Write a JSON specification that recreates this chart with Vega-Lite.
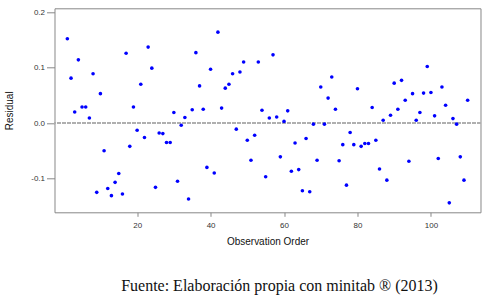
{
  "$schema": "https://vega.github.io/schema/vega-lite/v6.json",
  "width": 426,
  "height": 204,
  "autosize": {"type": "none"},
  "padding": {"left": 54.5, "top": 8.3, "right": 8, "bottom": 90},
  "background": "white",
  "title": {
    "text": "Fuente: Elaboración propia con minitab ® (2013)",
    "orient": "bottom",
    "font": "Liberation Serif",
    "fontSize": 16,
    "fontWeight": "normal",
    "color": "#111111",
    "offset": 32,
    "dx": 12
  },
  "config": {
    "view": {"stroke": "#888888", "strokeWidth": 1},
    "axis": {
      "grid": false,
      "domain": false,
      "tickColor": "#888888",
      "labelFont": "Liberation Sans",
      "titleFont": "Liberation Sans",
      "labelFontSize": 8,
      "labelColor": "#333333",
      "titleFontSize": 10,
      "titleFontWeight": "normal",
      "titleColor": "#111111"
    }
  },
  "data": {
    "values": [
      {"obs": 1, "resid": 0.152}, {"obs": 2, "resid": 0.081}, {"obs": 3, "resid": 0.020},
      {"obs": 4, "resid": 0.114}, {"obs": 5, "resid": 0.029}, {"obs": 6, "resid": 0.029},
      {"obs": 7, "resid": 0.009}, {"obs": 8, "resid": 0.089}, {"obs": 9, "resid": -0.125},
      {"obs": 10, "resid": 0.053}, {"obs": 11, "resid": -0.050}, {"obs": 12, "resid": -0.118},
      {"obs": 13, "resid": -0.131}, {"obs": 14, "resid": -0.107}, {"obs": 15, "resid": -0.091},
      {"obs": 16, "resid": -0.128}, {"obs": 17, "resid": 0.126}, {"obs": 18, "resid": -0.042},
      {"obs": 19, "resid": 0.029}, {"obs": 20, "resid": -0.013}, {"obs": 21, "resid": 0.070},
      {"obs": 22, "resid": -0.026}, {"obs": 23, "resid": 0.137}, {"obs": 24, "resid": 0.099},
      {"obs": 25, "resid": -0.116}, {"obs": 26, "resid": -0.018}, {"obs": 27, "resid": -0.019},
      {"obs": 28, "resid": -0.035}, {"obs": 29, "resid": -0.035}, {"obs": 30, "resid": 0.019},
      {"obs": 31, "resid": -0.105}, {"obs": 32, "resid": -0.004}, {"obs": 33, "resid": 0.010},
      {"obs": 34, "resid": -0.137}, {"obs": 35, "resid": 0.024}, {"obs": 36, "resid": 0.127},
      {"obs": 37, "resid": 0.067}, {"obs": 38, "resid": 0.025}, {"obs": 39, "resid": -0.080},
      {"obs": 40, "resid": 0.097}, {"obs": 41, "resid": -0.090}, {"obs": 42, "resid": 0.164},
      {"obs": 43, "resid": 0.027}, {"obs": 44, "resid": 0.063}, {"obs": 45, "resid": 0.070},
      {"obs": 46, "resid": 0.089}, {"obs": 47, "resid": -0.011}, {"obs": 48, "resid": 0.092},
      {"obs": 49, "resid": 0.110}, {"obs": 50, "resid": -0.031}, {"obs": 51, "resid": -0.067},
      {"obs": 52, "resid": -0.022}, {"obs": 53, "resid": 0.110}, {"obs": 54, "resid": 0.023},
      {"obs": 55, "resid": -0.097}, {"obs": 56, "resid": 0.009}, {"obs": 57, "resid": 0.123},
      {"obs": 58, "resid": 0.011}, {"obs": 59, "resid": -0.061}, {"obs": 60, "resid": 0.003},
      {"obs": 61, "resid": 0.022}, {"obs": 62, "resid": -0.087}, {"obs": 63, "resid": -0.036},
      {"obs": 64, "resid": -0.084}, {"obs": 65, "resid": -0.122}, {"obs": 66, "resid": -0.028},
      {"obs": 67, "resid": -0.124}, {"obs": 68, "resid": -0.002}, {"obs": 69, "resid": -0.067},
      {"obs": 70, "resid": 0.065}, {"obs": 71, "resid": -0.002}, {"obs": 72, "resid": 0.045},
      {"obs": 73, "resid": 0.083}, {"obs": 74, "resid": 0.025}, {"obs": 75, "resid": -0.068},
      {"obs": 76, "resid": -0.039}, {"obs": 77, "resid": -0.112}, {"obs": 78, "resid": -0.017},
      {"obs": 79, "resid": -0.039}, {"obs": 80, "resid": 0.062}, {"obs": 81, "resid": -0.042},
      {"obs": 82, "resid": -0.037}, {"obs": 83, "resid": -0.037}, {"obs": 84, "resid": 0.028},
      {"obs": 85, "resid": -0.031}, {"obs": 86, "resid": -0.083}, {"obs": 87, "resid": 0.005},
      {"obs": 88, "resid": -0.103}, {"obs": 89, "resid": 0.014}, {"obs": 90, "resid": 0.072},
      {"obs": 91, "resid": 0.025}, {"obs": 92, "resid": 0.077}, {"obs": 93, "resid": 0.041},
      {"obs": 94, "resid": -0.069}, {"obs": 95, "resid": 0.053}, {"obs": 96, "resid": 0.005},
      {"obs": 97, "resid": 0.019}, {"obs": 98, "resid": 0.054}, {"obs": 99, "resid": 0.102},
      {"obs": 100, "resid": 0.055}, {"obs": 101, "resid": 0.013}, {"obs": 102, "resid": -0.064},
      {"obs": 103, "resid": 0.065}, {"obs": 104, "resid": 0.032}, {"obs": 105, "resid": -0.144},
      {"obs": 106, "resid": 0.008}, {"obs": 107, "resid": -0.002}, {"obs": 108, "resid": -0.061},
      {"obs": 109, "resid": -0.103}, {"obs": 110, "resid": 0.041}
    ]
  },
  "layer": [
    {
      "mark": {"type": "rule", "strokeDash": [3, 2], "color": "#b0b0b0", "strokeWidth": 1},
      "encoding": {
        "y": {"datum": 0, "type": "quantitative", "scale": {"domain": [-0.161, 0.207], "nice": false, "zero": false}}
      }
    },
    {
      "mark": {"type": "circle", "size": 13, "color": "#0000ff", "opacity": 1},
      "encoding": {
        "x": {
          "field": "obs",
          "type": "quantitative",
          "scale": {"domain": [-2.5, 113.5], "nice": false, "zero": false},
          "axis": {
            "values": [20, 40, 60, 80, 100],
            "title": "Observation Order",
            "tickSize": 4,
            "labelPadding": 5,
            "titlePadding": 7
          }
        },
        "y": {
          "field": "resid",
          "type": "quantitative",
          "scale": {"domain": [-0.161, 0.207], "nice": false, "zero": false},
          "axis": {
            "values": [-0.1, 0, 0.1, 0.2],
            "labelExpr": "replace(format(datum.value, '.1f'), '\u2212', '-')",
            "title": "Residual",
            "tickSize": 8,
            "labelPadding": 2,
            "titlePadding": 16
          }
        }
      }
    }
  ]
}
